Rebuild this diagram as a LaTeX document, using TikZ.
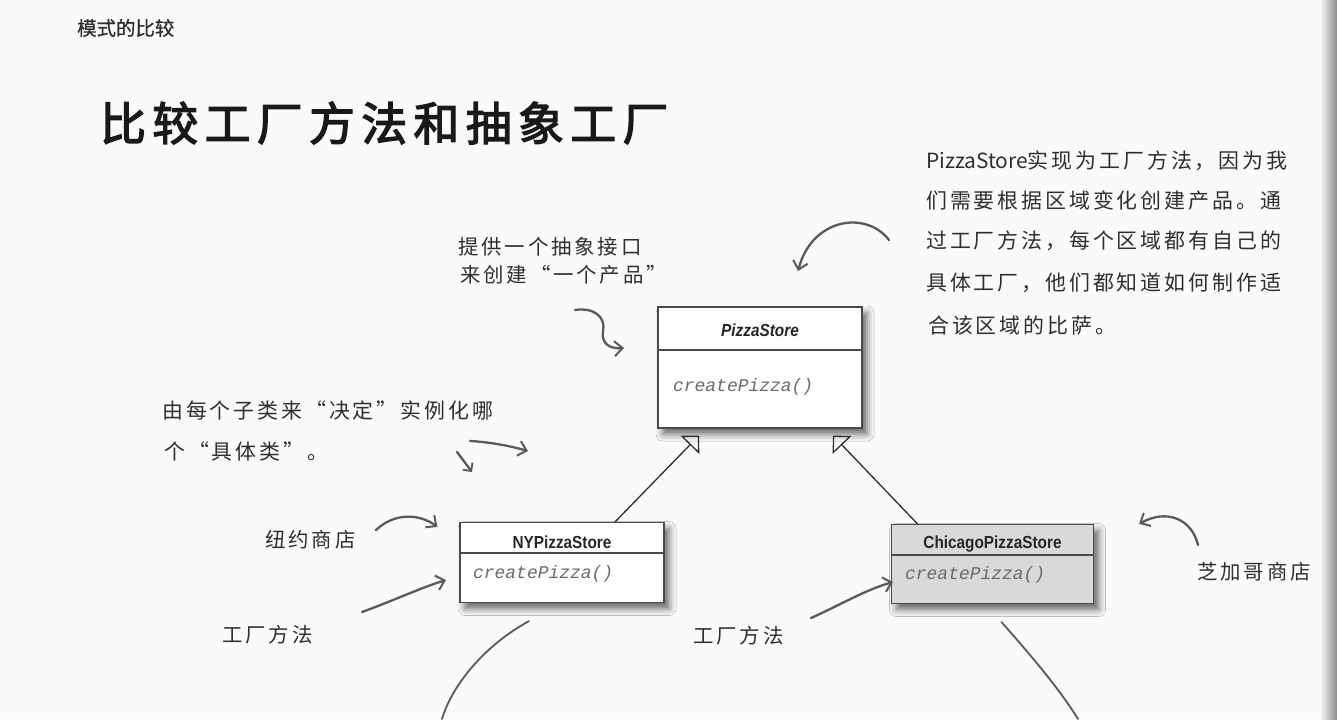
\documentclass[tikz,border=0pt]{standalone}
\usepackage{fontspec}
\usetikzlibrary{arrows.meta,shadows.blur,calc}
\newfontfamily\cjk[FakeBold=0.6]{Noto Sans CJK SC}
\newfontfamily\cjktitle[FakeBold=3,LetterSpace=14]{Noto Sans CJK SC}
\newfontfamily\hand[LetterSpace=14]{Noto Sans CJK SC}
\newfontfamily\handlatin{Noto Sans CJK SC}
\newfontfamily\umlsans[FakeStretch=0.88]{Liberation Sans}
\newfontfamily\umlmono{Liberation Mono}
\definecolor{paper}{HTML}{FAFAFA}
\definecolor{ink}{HTML}{2E2E2E}
\definecolor{pencil}{HTML}{5A5A5A}
\definecolor{boxline}{HTML}{4A4A4A}
\definecolor{greyfill}{HTML}{D9D9D9}
\definecolor{method}{HTML}{6A6A6A}
\tikzset{
  umlbox/.style={draw=boxline, line width=1.2bp, fill=white, inner sep=0pt,
    blur shadow={shadow xshift=5bp, shadow yshift=-6bp, shadow blur radius=7bp, shadow opacity=60}},
  umltitle/.style={font=\umlsans\bfseries\fontsize{17.5}{20}\selectfont, text=black!85},
  umlmethod/.style={font=\umlmono\itshape\fontsize{18}{20}\selectfont, text=method, anchor=west, inner sep=0pt},
  divider/.style={draw=boxline, line width=1.2bp},
  inherit/.style={draw=ink, line width=1.3bp, -{Triangle[open, length=13bp, width=26bp, line width=1.3bp]}},
  note/.style={font=\hand\fontsize{20.5}{24}\selectfont, text=ink, anchor=west, inner sep=0pt},
  bignote/.style={note, font=\hand\fontsize{21}{24}\selectfont},
  penarrow/.style={draw=pencil, line width=2.3bp, line cap=round,
    -{Straight Barb[length=8bp, width=15bp, line width=2bp]}},
  penline/.style={draw=pencil, line width=1.8bp, line cap=round}
}
\begin{document}
\begin{tikzpicture}[x=1bp, y=-1bp]
% page
\fill[paper] (0,0) rectangle (1337,719);
\useasboundingbox (0,0) rectangle (1337,719);
\shade[left color=paper, right color=black!45] (1320,0) rectangle (1337,719);

% running head and title
\node[anchor=west, inner sep=0pt, font=\cjk\fontsize{19.5}{22}\selectfont, text=ink] (head) at (77,28) {模式的比较};
\node[anchor=west, inner sep=0pt, font=\cjktitle\fontsize{46}{50}\selectfont, text=black!90] (title) at (100,123) {比较工厂方法和抽象工厂};

% PizzaStore
\node[umlbox, minimum width=204bp, minimum height=121bp] (ps) at (760,367.5) {};
\node[umltitle, font=\umlsans\bfseries\itshape\fontsize{17.5}{20}\selectfont] (pst) at (760,330) {PizzaStore};
\draw[divider] (ps.west |- 0,350) -- (ps.east |- 0,350);
\node[umlmethod] (psm) at (673,387) {createPizza()};

% NYPizzaStore
\node[umlbox, minimum width=204bp, minimum height=80bp] (ny) at (562,562.5) {};
\node[umltitle] (nyt) at (562,542) {NYPizzaStore};
\draw[divider] (ny.west |- 0,553) -- (ny.east |- 0,553);
\node[umlmethod] (nym) at (473,574) {createPizza()};

% ChicagoPizzaStore
\node[umlbox, fill=greyfill, minimum width=202bp, minimum height=79bp] (ch) at (992.5,564) {};
\node[umltitle] (cht) at (992.5,544) {ChicagoPizzaStore};
\draw[divider] (ch.west |- 0,555) -- (ch.east |- 0,555);
\node[umlmethod] (chm) at (905,575) {createPizza()};

% inheritance
\draw[inherit] ($(ny.north)+(53,0)$) -- ($(ps.south)+(-61,7)$);
\draw[inherit] ($(ch.north)+(-75,0)$) -- ($(ps.south)+(73,7)$);

% notes
\node[note] (n1a) at (458,247) {提供一个抽象接口};
\node[note] (n1b) at (460,275) {来创建“一个产品”};
\coordinate (n1s) at (575,310);
\draw[penarrow] (n1s) .. controls (595,307) and (606,318) .. (603,331)
  .. controls (601,343) and (609,349) .. (624,348);

\node[bignote] (r1) at (926,161) {{\handlatin PizzaStore}实现为工厂方法，因为我};
\node[bignote] (r2) at (926,201) {们需要根据区域变化创建产品。通};
\node[bignote] (r3) at (926,241) {过工厂方法，每个区域都有自己的};
\node[bignote] (r4) at (926,283) {具体工厂，他们都知道如何制作适};
\node[bignote] (r5) at (928,326) {合该区域的比萨。};
\coordinate (r0) at (889,240);
\coordinate (rt) at (798,271);
\draw[penarrow] (r0) .. controls (866,210) and (812,218) .. (rt);

\node[bignote] (d1) at (162,411) {由每个子类来“决定”实例化哪};
\node[bignote] (d2) at (164,451) {个“具体类”。};
\coordinate (da) at (470,441);
\coordinate (db) at (528,451);
\draw[penarrow] (da) .. controls (490,442) and (510,446) .. (db);
\coordinate (dc) at (457,452);
\coordinate (dd) at (472,472);
\draw[penarrow, -{Straight Barb[length=6bp, width=12bp, line width=1.8bp]}] (dc) -- (dd);

\node[note] (nyl) at (265,540) {纽约商店};
\coordinate (nya) at (376,530);
\draw[penarrow] (nya) .. controls (395,512) and (420,514) .. ($(ny.north west)+(-22,5)$);

\node[note] (fm1) at (222,635) {工厂方法};
\coordinate (fa) at (362,612);
\draw[penarrow] (fa) .. controls (395,600) and (420,588) .. ($(nym.west)+(-27,6)$);
\coordinate (nyb) at (442,719);
\draw[penline] ($(ny.south)+(-33,18)$) .. controls (485,645) and (452,685) .. (nyb);

\node[note] (fm2) at (693,636) {工厂方法};
\coordinate (fb) at (811,618);
\draw[penarrow] (fb) .. controls (840,605) and (865,590) .. ($(chm.west)+(-12,7)$);
\coordinate (chb) at (1078,719);
\draw[penline] ($(ch.south)+(9,18)$) .. controls (1035,660) and (1060,690) .. (chb);

\node[note] (chl) at (1197,572) {芝加哥商店};
\coordinate (cha) at (1198,545);
\draw[penarrow] (cha) .. controls (1192,520) and (1168,508) .. ($(ch.north east)+(45,0)$);
\end{tikzpicture}
\end{document}
